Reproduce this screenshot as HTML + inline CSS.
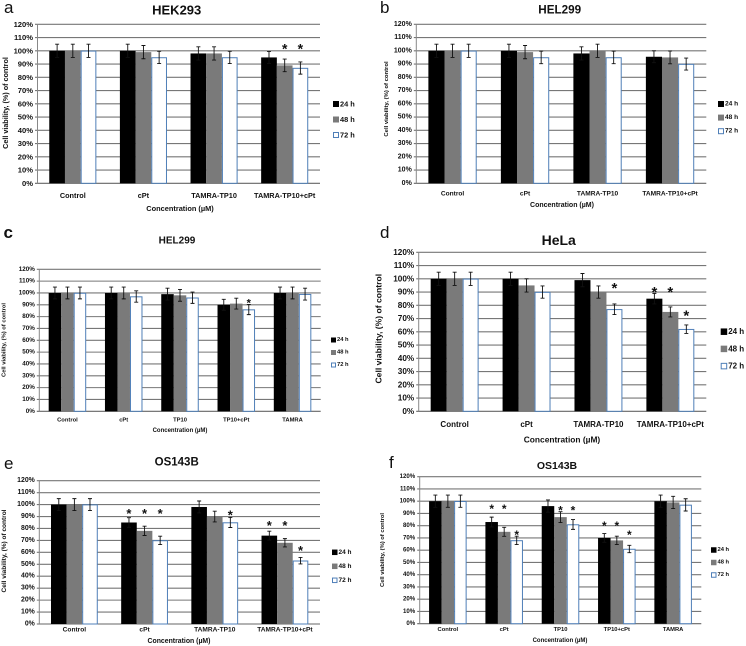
<!DOCTYPE html>
<html lang="en">
<head>
<meta charset="utf-8">
<title>Cell viability charts</title>
<style>
html,body{margin:0;padding:0;background:#fff;width:746px;height:646px;overflow:hidden}
svg{display:block;filter:blur(0.35px)}
text{font-family:"Liberation Sans",sans-serif;fill:#111}
</style>
</head>
<body>
<svg id="figure" width="746" height="646" viewBox="0 0 746 646" xmlns="http://www.w3.org/2000/svg"></svg>
<script>
// Shared labels
const tickLabels = ['0%','10%','20%','30%','40%','50%','60%','70%','80%','90%','100%','110%','120%'];
const tickValues = [0,10,20,30,40,50,60,70,80,90,100,110,120];
const seriesNames = ['24 h','48 h','72 h'];
const categories4Tamra = ['Control','cPt','TAMRA-TP10','TAMRA-TP10+cPt'];
const categories5 = ['Control','cPt','TP10','TP10+cPt','TAMRA'];

// Panel a
const aValues24 = [100,100,98,95];
const aValues48 = [100,99,98,89];
const aValues72 = [100,95,95,87];
const aErrors24 = [5,5,5,4.5];
const aErrors48 = [5,5,5,4.8];
const aErrors72 = [5,4.6,4.6,4.6];
const aStars24 = [null,null,null,null];
const aStars48 = [null,null,null,104];
const aStars72 = [null,null,null,104];

// Panel b
const bValues24 = [100,100,98,95.5];
const bValues48 = [100,99,100,95];
const bValues72 = [100,95,95,90];
const bErrors24 = [5,5,5,4.5];
const bErrors48 = [5,5,5,4.8];
const bErrors72 = [5,4.7,4.7,4.5];

// Panel c
const cValues24 = [100,100,99,90,100];
const cValues48 = [100,100,98,91,100];
const cValues72 = [100,97,96,86,99];
const cErrors24 = [5,5,5,4.6,5];
const cErrors48 = [5,5,5,4.6,5];
const cErrors72 = [5,4.8,4.8,4.3,5];
const cStars72 = [null,null,null,94,null];

// Panel d
const dValues24 = [100,100,99,85];
const dValues48 = [100,95,90,75];
const dValues72 = [100,90,77,62];
const dErrors24 = [5,5,5,4];
const dErrors48 = [5,5,4.6,3.8];
const dErrors72 = [5,4.6,4,3.2];
const dStars24 = [null,null,null,93];
const dStars48 = [null,null,null,93];
const dStars72 = [null,null,96,75];

// Panel e
const eValues24 = [100,85,98,74];
const eValues48 = [100,78,90,68];
const eValues72 = [100,70,85,53];
const eErrors24 = [5,4,5,3.7];
const eErrors48 = [5,3.9,4.5,3.5];
const eErrors72 = [5,3.5,4.2,2.7];
const eStars24 = [null,95,null,85];
const eStars48 = [null,95,null,85];
const eStars72 = [null,95,94,64];

// Panel f
const fValues24 = [100,83,96,70,100];
const fValues48 = [100,75,87,68,99];
const fValues72 = [100,68,81,61,97];
const fErrors24 = [5,4,5,3.6,5];
const fErrors48 = [5,3.7,4.4,3.4,5];
const fErrors72 = [5,3.4,4,3,5];
const fStars24 = [null,96,null,82,null];
const fStars48 = [null,96,95,82,null];
const fStars72 = [null,75,95,75,null];

const noStars = [null,null,null,null,null];
const SVGNS = 'http://www.w3.org/2000/svg';
const figure = document.getElementById('figure');

function make(tag, attrs, parent, content) {
  const node = document.createElementNS(SVGNS, tag);
  for (const key in attrs) node.setAttribute(key, attrs[key]);
  if (content !== undefined) node.textContent = content;
  parent.appendChild(node);
  return node;
}

function drawPanel(p) {
  const group = make('g', {}, figure);
  
  

  const yScale = function (v) { return p.y0 + (p.yTop - p.y0) * v / 120; };
  const catWidth = (p.x1 - p.x0) / p.categories.length;
  const barWidth = catWidth / 4.5;
  const xScale = function (c, s) { return p.x0 + catWidth * c + barWidth * (0.75 + s); };

  // panel letter and title
  const letter = make('text', {x: p.letterX, y: p.letterY, 'font-size': 17, 'font-weight': p.letterBold ? 'bold' : 'normal'}, group, p.id);
  
  
  const title = make('text', {x: p.titleX, y: p.titleY, 'font-size': p.titleSize, 'font-weight': 'bold', 'text-anchor': 'middle', 'dominant-baseline': 'central'}, group, p.title);
  
  

  // grid and y ticks
  tickValues.forEach(function (v, i) {
    const yy = yScale(v);
    const grid = make('line', {x1: p.x0 - 2.5, x2: p.x1, y1: yy, y2: yy, stroke: v === 0 ? '#666' : '#777', 'stroke-width': 1.1}, group);
    
    
    const tick = make('text', {x: p.x0 - 4.5, y: yy, 'font-size': p.tickSize, 'font-weight': 'bold', 'text-anchor': 'end', 'dominant-baseline': 'central'}, group, tickLabels[i]);
    
    
  });
  const yAxis = make('line', {x1: p.x0, x2: p.x0, y1: p.yTop, y2: p.y0, stroke: '#888', 'stroke-width': 1}, group);
  
  

  // bars, error bars, stars
  const fills = ['#000000','#7a7a7a','#ffffff'];
  p.values.forEach(function (seriesValues, s) {
    seriesValues.forEach(function (v, c) {
      const bx = xScale(c, s);
      const top = yScale(v);
      const bar = make('rect', {x: s === 2 ? bx + 0.5 : bx, y: s === 2 ? top + 0.3 : top, width: s === 2 ? barWidth - 1 : barWidth, height: p.y0 - top - (s === 2 ? 0.3 : 0), fill: fills[s], stroke: s === 2 ? '#4f7fb8' : 'none', 'stroke-width': s === 2 ? 1 : 0}, group);
      
      

      const cx = bx + barWidth / 2;
      const err = p.errors[s][c];
      const hi = yScale(v + err);
      const lo = yScale(v - err);
      const errorPath = make('path', {d: 'M' + (cx - 2) + ' ' + hi + 'H' + (cx + 2) + 'M' + cx + ' ' + hi + 'V' + lo + 'M' + (cx - 2) + ' ' + lo + 'H' + (cx + 2), stroke: '#111', 'stroke-width': 0.9, fill: 'none'}, group);
      
      

      const level = p.stars[s][c];
      if (level !== null && level !== undefined) {
        const star = make('text', {x: cx, y: yScale(level) + p.starSize * 0.58, 'font-size': p.starSize, 'font-weight': 'bold', 'text-anchor': 'middle'}, group, '*');
        
        
      }
    });
  });

  // category labels
  p.categories.forEach(function (name, c) {
    const label = make('text', {x: p.x0 + catWidth * (c + 0.5), y: p.catY, 'font-size': p.catSize, 'font-weight': 'bold', 'text-anchor': 'middle', 'dominant-baseline': 'central'}, group, name);
    
    
  });

  // axis titles
  const xTitle = make('text', {x: p.xTitleX, y: p.xTitleY, 'font-size': p.xTitleSize, 'font-weight': 'bold', 'text-anchor': 'middle', 'dominant-baseline': 'central'}, group, 'Concentration (µM)');
  
  
  const yTitle = make('text', {transform: 'translate(' + p.yTitleX + ' ' + p.yTitleY + ') rotate(-90)', 'font-size': p.yTitleSize, 'font-weight': 'bold', 'text-anchor': 'middle', 'dominant-baseline': 'central'}, group, 'Cell viability,  (%) of control');
  
  

  // legend
  seriesNames.forEach(function (name, s) {
    const ly = p.legendY + p.legendGap * s;
    const size = p.legendSwatch;
    const swatch = make('rect', {x: p.legendX + (s === 2 ? 0.5 : 0), y: ly - size / 2 + (s === 2 ? 0.5 : 0), width: size - (s === 2 ? 1 : 0), height: size - (s === 2 ? 1 : 0), fill: fills[s], stroke: s === 2 ? '#4f7fb8' : 'none', 'stroke-width': s === 2 ? 1 : 0}, group);
    
    
    const entry = make('text', {x: p.legendX + size + 1, y: ly, 'font-size': p.legendSize, 'font-weight': 'bold', 'dominant-baseline': 'central'}, group, name);
    
    
  });
}

drawPanel({id:'a', title:'HEK293', categories:categories4Tamra,
  values:[aValues24,aValues48,aValues72], errors:[aErrors24,aErrors48,aErrors72], stars:[aStars24,aStars48,aStars72],
  x0:37.5, x1:320, yTop:24.3, y0:183.3, letterX:4, letterY:13, titleX:176.7, titleY:10, titleSize:13,
  tickSize:7.6, catY:195.7, catSize:7.3, xTitleX:180, xTitleY:208.3, xTitleSize:7.4, yTitleX:5.5, yTitleY:103, yTitleSize:7.2,
  legendX:333, legendY:104, legendGap:15.5, legendSwatch:6, legendSize:7.4, starSize:14});

drawPanel({id:'b', title:'HEL299', categories:categories4Tamra,
  values:[bValues24,bValues48,bValues72], errors:[bErrors24,bErrors48,bErrors72], stars:[noStars,noStars,noStars],
  x0:416.3, x1:706.3, yTop:24.3, y0:183.3, letterX:380, letterY:13, titleX:559.7, titleY:10, titleSize:11.7,
  tickSize:7, catY:194, catSize:6.6, xTitleX:562, xTitleY:205.7, xTitleSize:7, yTitleX:387, yTitleY:99, yTitleSize:5.9,
  legendX:718, legendY:104, legendGap:13.6, legendSwatch:6, legendSize:6.6, starSize:14});

drawPanel({id:'c', title:'HEL299', categories:categories5,
  values:[cValues24,cValues48,cValues72], errors:[cErrors24,cErrors48,cErrors72], stars:[noStars,noStars,cStars72],
  x0:39.3, x1:320.7, yTop:269.3, y0:411.3, letterX:3.5, letterY:238, letterBold:true, titleX:177, titleY:241, titleSize:10,
  tickSize:6.3, catY:420.7, catSize:5.8, xTitleX:180, xTitleY:431, xTitleSize:6, yTitleX:4.5, yTitleY:340, yTitleSize:5.8,
  legendX:331, legendY:340, legendGap:12.5, legendSwatch:5, legendSize:5.8, starSize:11});

drawPanel({id:'d', title:'HeLa', categories:categories4Tamra,
  values:[dValues24,dValues48,dValues72], errors:[dErrors24,dErrors48,dErrors72], stars:[dStars24,dStars48,dStars72],
  x0:418.7, x1:706.3, yTop:252.3, y0:411.3, letterX:380, letterY:238, titleX:558.7, titleY:240, titleSize:14,
  tickSize:8.2, catY:424.3, catSize:8, xTitleX:562, xTitleY:439.3, xTitleSize:8.4, yTitleX:378.5, yTitleY:328.7, yTitleSize:8.6,
  legendX:720.7, legendY:331.7, legendGap:17.2, legendSwatch:6.5, legendSize:8, starSize:15});

drawPanel({id:'e', title:'OS143B', categories:categories4Tamra,
  values:[eValues24,eValues48,eValues72], errors:[eErrors24,eErrors48,eErrors72], stars:[eStars24,eStars48,eStars72],
  x0:39.3, x1:320, yTop:480.7, y0:624, letterX:4, letterY:469, titleX:176.7, titleY:462.7, titleSize:11.5,
  tickSize:6.9, catY:630, catSize:6.6, xTitleX:179, xTitleY:641.7, xTitleSize:6.9, yTitleX:4.5, yTitleY:551, yTitleSize:6.5,
  legendX:332, legendY:552.3, legendGap:14, legendSwatch:5.5, legendSize:6.5, starSize:13});

drawPanel({id:'f', title:'OS143B', categories:categories5,
  values:[fValues24,fValues48,fValues72], errors:[fErrors24,fErrors48,fErrors72], stars:[fStars24,fStars48,fStars72],
  x0:419.7, x1:701.3, yTop:476.7, y0:623.7, letterX:389, letterY:468, titleX:557, titleY:466, titleSize:10.5,
  tickSize:6.1, catY:630, catSize:5.8, xTitleX:560, xTitleY:641, xTitleSize:6, yTitleX:383, yTitleY:550, yTitleSize:5.8,
  legendX:711, legendY:550, legendGap:12.5, legendSwatch:5.5, legendSize:5.8, starSize:12});
</script>
</body>
</html>
